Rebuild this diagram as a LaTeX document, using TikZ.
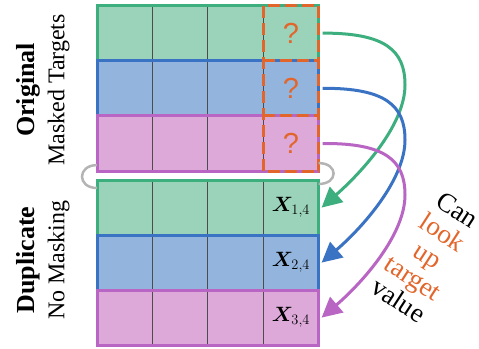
\documentclass[tikz,border=0pt]{standalone}
\usepackage{fontspec}
\setmainfont{Liberation Serif}
\newfontfamily\qfont{Liberation Sans}
\usepackage{bm}
\usetikzlibrary{arrows.meta}
\definecolor{gfill}{HTML}{9AD3B9}
\definecolor{gline}{HTML}{3DAE7E}
\definecolor{bfill}{HTML}{93B5DD}
\definecolor{bline}{HTML}{3A73C3}
\definecolor{pfill}{HTML}{DDA9D9}
\definecolor{pline}{HTML}{B865C4}
\definecolor{oline}{HTML}{E2662C}
\definecolor{arcgray}{HTML}{B4B4B4}
\begin{document}
\begin{tikzpicture}[x=1pt,y=-1pt,
  rowbox/.style={draw, line width=3pt, minimum width=221.6pt, minimum height=55.2pt, anchor=north west, inner sep=0pt, outer sep=0pt},
  cellbox/.style={minimum width=55.4pt, minimum height=55.2pt, anchor=north west, inner sep=0pt, outer sep=0pt},
  divider/.style={line width=0.8pt, draw=black!70},
  qmark/.style={cellbox, text=oline, font=\qfont\fontsize{29}{30}\selectfont},
  xlabel/.style={cellbox, font=\fontsize{22}{24}\selectfont},
  conn/.style={line width=3pt, -{Triangle[length=20pt,width=20pt]}},
  garc/.style={draw=arcgray, line width=2.5pt},
  dashbox/.style={draw=oline, line width=3pt, dash pattern=on 12pt off 5pt},
  sidelabel/.style={rotate=90, align=center, font=\fontsize{24}{30}\selectfont}]
\useasboundingbox (0,0) rectangle (479,348);
% ---- top grid (original, masked)
\foreach \r/\fc/\lc in {0/gfill/gline,1/bfill/bline,2/pfill/pline}{
  \node[rowbox, fill=\fc, draw=\lc] (o\r) at (97,5.5+\r*55.2) {};
  \foreach \c in {1,2,3}
    \draw[divider] (97+\c*55.4,5.5+\r*55.2+1.5) -- (97+\c*55.4,5.5+\r*55.2+53.7);
}
% ---- bottom grid (duplicate)
\foreach \r/\fc/\lc in {0/gfill/gline,1/bfill/bline,2/pfill/pline}{
  \node[rowbox, fill=\fc, draw=\lc] (d\r) at (97,180+\r*55) {};
  \foreach \c in {1,2,3}
    \draw[divider] (97+\c*55.4,180+\r*55+1.5) -- (97+\c*55.4,180+\r*55+53.5);
}
% ---- masked cells
\node[qmark] (q1) at (263.2,5.5) {?};
\node[qmark] (q2) at (263.2,60.7) {?};
\node[qmark] (q3) at (263.2,115.9) {?};
\draw[dashbox] (q1.north west) rectangle (q3.south east);
\draw[dashbox] (q1.south west) -- (q1.south east);
\draw[dashbox] (q2.south west) -- (q2.south east);
% ---- target cells
\node[xlabel] (x1) at (263.2,180) {$\bm{X}_{1,4}$};
\node[xlabel] (x2) at (263.2,235) {$\bm{X}_{2,4}$};
\node[xlabel] (x3) at (263.2,290) {$\bm{X}_{3,4}$};
% ---- grey links
\draw[garc] ([yshift=6pt]o2.south west) .. controls +(-20,0) and +(-20,0) .. ([yshift=-8pt]d0.north west);
\draw[garc] ([yshift=8pt]q3.south east) .. controls +(20,0) and +(20,0) .. ([yshift=-4pt]x1.north east);
% ---- arrows
\draw[conn, gline] ([xshift=4pt]q1.east) .. controls (385,33) and (405,50) .. (405,85)
   .. controls (405,125) and (362,172) .. ([xshift=3pt]x1.east);
\draw[conn, bline] ([xshift=4pt]q2.east) .. controls (385,88) and (405,105) .. (405,140)
   .. controls (405,180) and (362,228) .. ([xshift=3pt]x2.east);
\draw[conn, pline] ([xshift=4pt]q3.east) .. controls (385,143) and (405,160) .. (405,195)
   .. controls (405,235) and (362,283) .. ([xshift=3pt]x3.east);
% ---- labels
\node[sidelabel] (lorig) at (43,90) {{\fontsize{26}{30}\selectfont\textbf{Original}}\\Masked Targets};
\node[sidelabel] (ldup) at (43,260) {{\fontsize{26}{30}\selectfont\textbf{Duplicate}}\\No Masking};
\node[rotate=-33, align=center, font=\fontsize{27}{27}\selectfont] (can) at (428,255)
  {Can\\\textcolor{oline}{look}\\\textcolor{oline}{up}\\\textcolor{oline}{target}\\value};
\end{tikzpicture}
\end{document}
